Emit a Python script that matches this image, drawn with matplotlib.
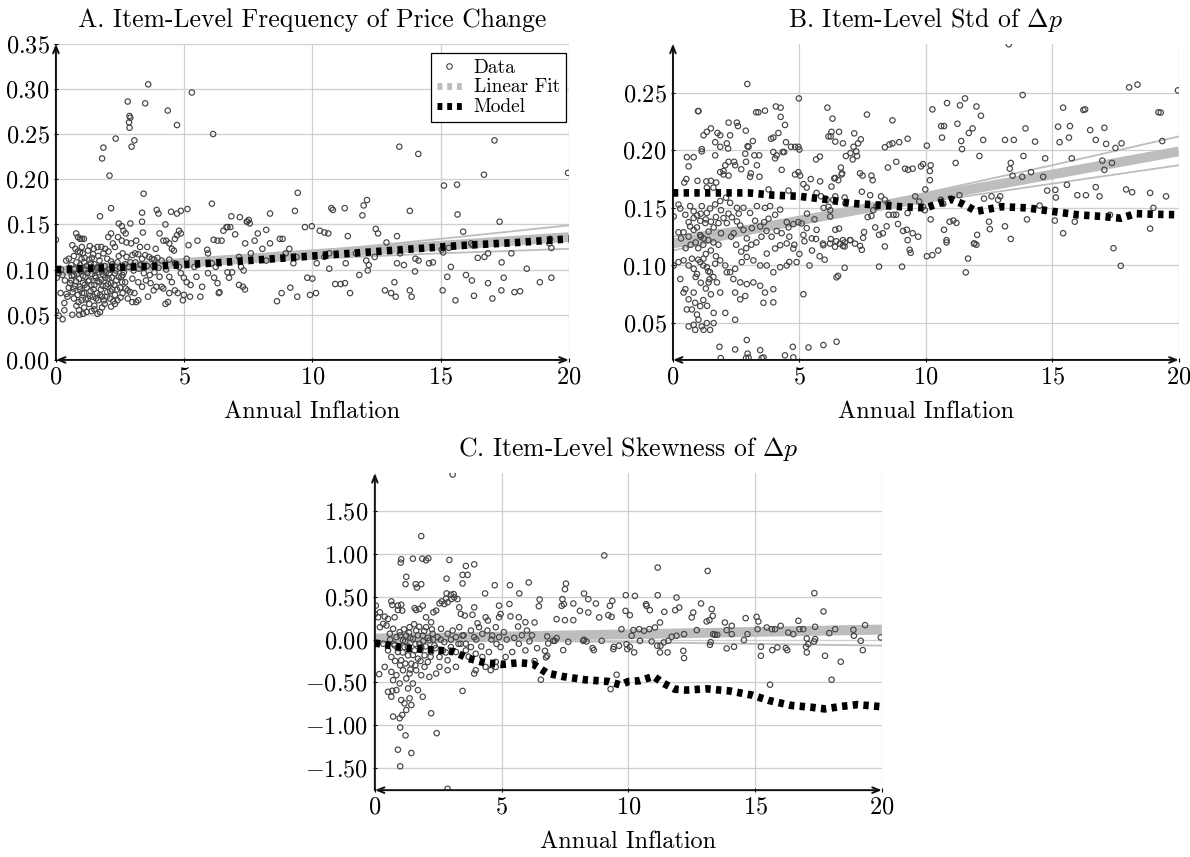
import matplotlib
matplotlib.use("Agg")
import matplotlib.pyplot as plt
from matplotlib.lines import Line2D
from matplotlib.ticker import FuncFormatter

plt.rcParams["font.family"] = "cmr10"
plt.rcParams["mathtext.fontset"] = "cm"
plt.rcParams["axes.formatter.use_mathtext"] = True

# --- data (x = annual inflation) ---
freq_pts = [
    (3.6, 0.305), (5.3, 0.296), (2.8, 0.286), (3.48, 0.284), (4.36, 0.276), (2.87, 0.270), (2.9, 0.268),
    (2.85, 0.263), (2.87, 0.257), (4.72, 0.260), (3.06, 0.243), (2.95, 0.236), (2.33, 0.245), (1.85, 0.235),
    (1.8, 0.223), (2.09, 0.204), (6.13, 0.250), (13.39, 0.236), (14.13, 0.228), (17.1, 0.243), (16.69, 0.205),
    (15.13, 0.193), (15.64, 0.194), (19.97, 0.207), (3.42, 0.184), (9.43, 0.185), (1.72, 0.159), (2.15, 0.168),
    (6.08, 0.173), (5.13, 0.167), (6.84, 0.159), (9.32, 0.165), (10.74, 0.168), (10.8, 0.166), (11.26, 0.168),
    (12.13, 0.177), (12.0, 0.171), (11.95, 0.160), (13.8, 0.165), (15.66, 0.161), (17.3, 0.153), (15.88, 0.142),
    (8.35, 0.162), (7.44, 0.153), (3.36, 0.163), (3.36, 0.153), (3.93, 0.166), (4.49, 0.164), (4.72, 0.162),
    (4.87, 0.165), (4.0, 0.162), (6.69, 0.147), (6.8, 0.147), (7.52, 0.155), (8.2, 0.144), (8.73, 0.134),
    (8.84, 0.134), (9.71, 0.147), (9.98, 0.148), (10.29, 0.143), (10.47, 0.141), (10.62, 0.140), (11.38, 0.137),
    (12.47, 0.145), (12.56, 0.140), (13.3, 0.137), (16.19, 0.129), (17.76, 0.118), (19.27, 0.134), (19.24, 0.129),
    (19.32, 0.124), (8.62, 0.065), (8.8, 0.074), (9.14, 0.080), (9.41, 0.070), (9.91, 0.072), (10.14, 0.074),
    (9.8, 0.091), (10.0, 0.090), (10.89, 0.084), (11.1, 0.084), (11.27, 0.085), (11.47, 0.074), (11.83, 0.094),
    (12.16, 0.099), (12.83, 0.077), (13.07, 0.074), (13.25, 0.070), (13.2, 0.086), (13.8, 0.077), (13.87, 0.070),
    (14.0, 0.098), (14.02, 0.112), (14.14, 0.110), (14.55, 0.107), (14.7, 0.108), (15.08, 0.077), (15.26, 0.092),
    (15.58, 0.066), (15.4, 0.103), (15.99, 0.094), (16.22, 0.088), (16.3, 0.071), (16.45, 0.113), (16.71, 0.114),
    (16.85, 0.085), (17.02, 0.068), (17.37, 0.077), (17.46, 0.091), (17.38, 0.108), (17.88, 0.075), (18.1, 0.076),
    (18.36, 0.101), (18.87, 0.086), (19.32, 0.091), (15.32, 0.124), (16.85, 0.118), (15.04, 0.122), (15.1, 0.119),
    (16.25, 0.127), (12.89, 0.130), (12.43, 0.114), (13.42, 0.118), (13.57, 0.105), (13.3, 0.107), (11.3, 0.107),
    (11.7, 0.118), (12.1, 0.110), (12.2, 0.105), (10.47, 0.114), (10.66, 0.118), (10.17, 0.107), (10.66, 0.101),
    (9.26, 0.107), (9.38, 0.114), (8.35, 0.129), (8.96, 0.118), (9.1, 0.123), (8.2, 0.110), (7.6, 0.118),
    (7.14, 0.114), (6.08, 0.107), (6.23, 0.103), (5.93, 0.118), (5.9, 0.122), (6.15, 0.133), (6.3, 0.132),
    (6.46, 0.132), (6.53, 0.143), (6.65, 0.147), (6.99, 0.139), (7.38, 0.129), (7.17, 0.158), (7.46, 0.153),
    (7.56, 0.151), (7.75, 0.132), (7.87, 0.140), (8.05, 0.123), (7.22, 0.103), (7.32, 0.099), (6.69, 0.097),
    (6.87, 0.097), (7.14, 0.083), (7.29, 0.081), (7.37, 0.078), (6.75, 0.091), (6.38, 0.075), (6.35, 0.074),
    (6.17, 0.091), (6.3, 0.085), (5.93, 0.096), (5.7, 0.081), (5.63, 0.070), (5.23, 0.070), (4.95, 0.066),
    (4.99, 0.072), (5.1, 0.086), (5.25, 0.083), (5.4, 0.103), (5.48, 0.092), (5.17, 0.127), (5.52, 0.132),
    (5.1, 0.112), (4.8, 0.143), (4.87, 0.140), (4.64, 0.134), (4.72, 0.138), (4.52, 0.123), (4.6, 0.121),
    (4.42, 0.129), (4.27, 0.150), (4.19, 0.132), (4.3, 0.132), (4.04, 0.140), (3.89, 0.123), (4.42, 0.111),
    (4.64, 0.107), (4.8, 0.103), (4.87, 0.096), (4.99, 0.091), (4.42, 0.092), (4.52, 0.086), (4.64, 0.077),
    (4.75, 0.074), (4.27, 0.062), (4.37, 0.064), (4.42, 0.074), (4.12, 0.081), (4.19, 0.079), (3.81, 0.077),
    (3.92, 0.081), (3.59, 0.070), (3.21, 0.066), (3.13, 0.064), (2.98, 0.064), (3.06, 0.074), (2.9, 0.075),
    (2.8, 0.077), (2.3, 0.062), (2.15, 0.059), (1.72, 0.053), (1.62, 0.051), (1.39, 0.054), (1.06, 0.051),
    (0.91, 0.050), (0.64, 0.050), (0.33, 0.055), (0.11, 0.049), (0.26, 0.045), (0.0, 0.054), (0.33, 0.063),
    (0.18, 0.074), (0.41, 0.073), (0.03, 0.091), (0.0, 0.133),
    (2.75, 0.114), (2.98, 0.116), (3.09, 0.118), (3.21, 0.117), (3.36, 0.112), (3.48, 0.116), (3.63, 0.114),
    (3.74, 0.112), (3.84, 0.111), (3.96, 0.113), (4.12, 0.110), (2.83, 0.103), (3.03, 0.099), (3.24, 0.101),
    (3.43, 0.096), (3.66, 0.094), (3.84, 0.097), (4.04, 0.092), (3.69, 0.085), (3.51, 0.088), (3.21, 0.086),
    (2.98, 0.090), (3.36, 0.081), (2.45, 0.151), (2.57, 0.148), (2.63, 0.143), (2.72, 0.140), (2.9, 0.151),
    (2.57, 0.132), (2.75, 0.130), (2.93, 0.129), (2.3, 0.125), (2.42, 0.136), (3.13, 0.132), (3.39, 0.141),
    (3.56, 0.125), (3.28, 0.125), (2.15, 0.140), (2.04, 0.136), (2.22, 0.129), (1.92, 0.123), (1.77, 0.125),
    (1.62, 0.125), (1.47, 0.123), (1.32, 0.126), (0.79, 0.140), (0.86, 0.136), (0.94, 0.134), (1.01, 0.134),
    (1.09, 0.134), (0.64, 0.127), (0.76, 0.123), (0.94, 0.119), (1.01, 0.125), (1.12, 0.113),
    (0.4, 0.110), (0.5, 0.112), (0.6, 0.105), (0.55, 0.098), (0.7, 0.094), (0.8, 0.108), (0.9, 0.102),
    (1.0, 0.112), (1.1, 0.108), (1.2, 0.104), (1.3, 0.111), (1.4, 0.113), (1.5, 0.106), (1.6, 0.102),
    (1.7, 0.110), (1.8, 0.098), (1.9, 0.104), (2.0, 0.112), (2.1, 0.100), (2.2, 0.106), (2.3, 0.096),
    (2.4, 0.108), (2.5, 0.102), (2.6, 0.094), (2.7, 0.106),
    (0.6, 0.088), (0.65, 0.075), (0.7, 0.068), (0.75, 0.082), (0.8, 0.060), (0.85, 0.072), (0.9, 0.090),
    (0.95, 0.078), (1.0, 0.066), (1.05, 0.085), (1.1, 0.058), (1.1, 0.074), (1.15, 0.092), (1.2, 0.080),
    (1.25, 0.068), (1.3, 0.062), (1.3, 0.088), (1.35, 0.076), (1.4, 0.095), (1.45, 0.070), (1.5, 0.083),
    (1.5, 0.060), (1.55, 0.091), (1.6, 0.074), (1.65, 0.066), (1.7, 0.086), (1.75, 0.078), (1.8, 0.070),
    (1.85, 0.094), (1.9, 0.062), (1.95, 0.082), (2.0, 0.075), (2.05, 0.090), (2.1, 0.068), (2.15, 0.085),
    (2.2, 0.078), (2.3, 0.072), (2.35, 0.088), (2.4, 0.066), (2.5, 0.080), (2.55, 0.092), (2.6, 0.074),
    (2.7, 0.086), (2.8, 0.068), (0.5, 0.080), (0.45, 0.070), (0.35, 0.088), (0.25, 0.094), (0.2, 0.100),
    (0.1, 0.096), (0.9, 0.055), (1.2, 0.053), (1.5, 0.056), (1.8, 0.058),
    (0.55, 0.085), (0.62, 0.093), (0.68, 0.079), (0.72, 0.101), (0.78, 0.087), (0.83, 0.095), (0.88, 0.064),
    (0.92, 0.081), (0.97, 0.098), (1.02, 0.074), (1.06, 0.093), (1.12, 0.083), (1.16, 0.067), (1.22, 0.096),
    (1.26, 0.087), (1.33, 0.071), (1.38, 0.083), (1.42, 0.102), (1.47, 0.078), (1.52, 0.093), (1.57, 0.068),
    (1.62, 0.087), (1.66, 0.097), (1.72, 0.072), (1.77, 0.089), (1.82, 0.082), (1.87, 0.066), (1.92, 0.091),
    (1.98, 0.070), (2.03, 0.084), (2.08, 0.096), (2.12, 0.076), (2.18, 0.091), (2.24, 0.065), (2.28, 0.083),
    (2.33, 0.099), (2.38, 0.078), (2.45, 0.092), (2.52, 0.069), (2.58, 0.086), (2.65, 0.097), (2.72, 0.079),
    (0.95, 0.105), (1.15, 0.100), (1.35, 0.107), (1.55, 0.099), (1.75, 0.104), (1.95, 0.097), (2.15, 0.109),
    (2.45, 0.115), (1.05, 0.118), (1.25, 0.121), (1.45, 0.117), (1.65, 0.115), (1.85, 0.118), (2.05, 0.120),
    (2.6, 0.118), (2.9, 0.108), (3.1, 0.108), (3.3, 0.105), (3.55, 0.104), (3.8, 0.104), (4.0, 0.102),
    (4.3, 0.100), (0.7, 0.115), (0.85, 0.120),
]

std_pts = [
    (13.28, 0.292), (2.94, 0.2575), (4.98, 0.245), (19.97, 0.252), (18.04, 0.2546), (18.37, 0.257), (13.83, 0.248),
    (1.01, 0.234), (6.11, 0.237), (7.67, 0.231), (6.31, 0.2275), (8.68, 0.226), (10.26, 0.2355), (10.84, 0.241),
    (11.35, 0.239), (11.55, 0.245), (12.0, 0.238), (12.18, 0.230), (15.43, 0.237), (16.23, 0.235), (16.3, 0.2355),
    (19.2, 0.233), (19.29, 0.2327), (19.35, 0.208), (10.61, 0.221), (10.72, 0.221), (10.64, 0.211), (11.25, 0.223),
    (11.85, 0.219), (11.7, 0.215), (12.27, 0.209), (12.12, 0.195), (15.23, 0.2205), (15.7, 0.221), (15.66, 0.211),
    (15.29, 0.207), (13.94, 0.219), (14.32, 0.2075), (13.13, 0.209), (13.48, 0.209), (13.32, 0.184), (13.36, 0.189),
    (13.86, 0.195), (14.72, 0.193), (14.16, 0.181), (14.64, 0.177), (13.81, 0.177), (13.43, 0.178), (15.77, 0.193),
    (16.5, 0.2175), (17.06, 0.2195), (16.72, 0.209), (17.13, 0.2055), (16.98, 0.191), (17.06, 0.183), (17.36, 0.189),
    (17.74, 0.206), (17.5, 0.202), (16.33, 0.161), (15.99, 0.161), (15.58, 0.170), (15.12, 0.1656), (15.14, 0.159),
    (16.72, 0.168), (16.87, 0.160), (17.92, 0.166), (18.16, 0.1636), (18.87, 0.163), (17.42, 0.115), (17.71, 0.0997),
    (18.87, 0.132), (15.43, 0.128), (15.89, 0.138), (15.1, 0.139), (17.28, 0.144), (13.36, 0.123), (13.13, 0.134),
    (12.53, 0.1315), (12.94, 0.160), (12.6, 0.160), (12.86, 0.157), (12.3, 0.158), (12.03, 0.1266), (11.92, 0.119),
    (11.9, 0.119), (12.0, 0.118), (11.67, 0.106), (11.58, 0.094), (11.33, 0.161), (11.18, 0.189), (11.43, 0.201),
    (11.4, 0.208), (10.19, 0.187), (10.16, 0.182), (10.16, 0.174), (10.04, 0.204), (9.98, 0.166), (9.89, 0.188),
    (9.81, 0.186), (10.19, 0.140), (10.04, 0.108), (10.26, 0.109), (10.49, 0.113), (10.72, 0.131), (10.82, 0.122),
    (10.82, 0.120), (10.94, 0.138), (11.09, 0.139), (11.21, 0.137), (10.6, 0.157), (10.69, 0.1535), (9.58, 0.160),
    (9.74, 0.1555), (9.89, 0.151), (9.96, 0.148), (9.28, 0.1455), (9.7, 0.125), (9.48, 0.128), (9.25, 0.131),
    (9.28, 0.122), (9.36, 0.1136), (9.4, 0.111), (9.06, 0.099), (8.15, 0.099), (8.38, 0.1165), (8.15, 0.1266),
    (8.3, 0.128), (8.45, 0.134), (8.53, 0.144), (8.72, 0.144), (8.83, 0.144), (8.23, 0.160), (8.38, 0.157),
    (8.5, 0.154), (8.05, 0.151), (7.85, 0.143), (7.92, 0.148), (8.38, 0.2026), (8.56, 0.205), (8.68, 0.206),
    (8.95, 0.207), (9.28, 0.210), (8.83, 0.190), (9.18, 0.184), (9.48, 0.184), (7.85, 0.178), (7.9, 0.174),
    (7.4, 0.180), (7.5, 0.178), (7.47, 0.164), (7.14, 0.203), (7.25, 0.199), (7.28, 0.195), (7.11, 0.192),
    (7.02, 0.1975), (7.17, 0.2147), (7.43, 0.2095), (7.32, 0.206), (6.84, 0.195), (6.42, 0.2075), (6.72, 0.206),
    (6.15, 0.212), (6.24, 0.212), (6.27, 0.216), (6.57, 0.216), (6.64, 0.185), (6.69, 0.180), (6.42, 0.176),
    (6.27, 0.1685), (6.42, 0.160), (6.79, 0.159), (6.82, 0.154), (5.81, 0.1945), (5.66, 0.192), (5.86, 0.160),
    (5.96, 0.150), (6.22, 0.148), (6.15, 0.151), (6.22, 0.1425), (6.42, 0.131), (6.57, 0.132), (6.24, 0.123),
    (6.46, 0.121), (6.72, 0.122), (6.72, 0.117), (6.79, 0.1165), (7.02, 0.122), (7.47, 0.1136), (7.4, 0.117),
    (7.52, 0.124), (7.56, 0.129), (6.53, 0.091), (6.79, 0.098), (5.93, 0.119), (5.66, 0.123),
    (0.99, 0.234), (1.21, 0.213), (1.34, 0.216), (1.5, 0.219), (0.82, 0.194), (1.14, 0.201), (1.14, 0.199),
    (0.55, 0.194), (0.62, 0.186), (1.67, 0.207), (1.76, 0.215), (1.87, 0.213), (1.87, 0.203), (2.13, 0.206),
    (2.2, 0.224), (2.26, 0.213), (2.53, 0.224), (2.57, 0.221), (2.88, 0.217), (2.95, 0.2035), (3.16, 0.208),
    (2.18, 0.2015), (1.67, 0.1956), (1.87, 0.181), (2.0, 0.182), (2.07, 0.187), (3.29, 0.233), (3.38, 0.233),
    (3.64, 0.2344), (4.07, 0.238), (4.26, 0.237), (4.26, 0.229), (4.43, 0.222), (4.17, 0.215), (3.97, 0.211),
    (3.88, 0.210), (4.47, 0.207), (4.67, 0.203), (4.83, 0.203), (4.96, 0.203), (5.0, 0.2006), (3.97, 0.1985),
    (4.1, 0.1956), (4.34, 0.1985), (4.4, 0.1985), (4.3, 0.183), (4.04, 0.193), (2.86, 0.197), (2.99, 0.203),
    (3.22, 0.1956), (3.41, 0.1956), (3.32, 0.187), (3.08, 0.180), (2.7, 0.1835), (2.89, 0.190),
    (0.45, 0.172), (0.53, 0.175), (0.97, 0.1735), (1.32, 0.173), (1.5, 0.1735), (1.34, 0.1676), (1.6, 0.1676),
    (1.71, 0.172), (2.0, 0.179), (2.2, 0.178), (2.2, 0.190), (2.42, 0.190), (2.46, 0.187), (3.05, 0.177),
    (3.42, 0.177), (3.78, 0.166), (4.57, 0.165), (4.83, 0.179), (4.96, 0.181), (5.03, 0.178), (5.16, 0.1706),
    (5.29, 0.1676), (5.45, 0.175), (5.68, 0.163), (5.82, 0.173), (6.08, 0.157), (6.34, 0.157), (6.38, 0.1756),
    (6.54, 0.174), (6.67, 0.179),
    (0.03, 0.1426), (0.22, 0.1529), (0.29, 0.1494), (0.49, 0.144), (0.68, 0.1515), (0.82, 0.147), (0.95, 0.1435),
    (1.14, 0.1515), (1.08, 0.1388), (0.82, 0.1412), (0.62, 0.1376), (0.68, 0.1338), (0.42, 0.1288), (0.22, 0.1288),
    (0.32, 0.1235), (0.62, 0.125), (0.82, 0.1309), (0.95, 0.133), (1.08, 0.1265), (1.21, 0.1235), (1.41, 0.1294),
    (1.61, 0.133), (1.8, 0.1368), (2.0, 0.1412), (2.13, 0.1368), (2.33, 0.1418), (2.53, 0.1382), (2.66, 0.1347),
    (2.79, 0.1309), (2.92, 0.1235), (3.12, 0.1324), (3.25, 0.1388), (3.45, 0.1338), (3.61, 0.1376), (3.78, 0.1406),
    (3.64, 0.15), (3.32, 0.1515), (3.05, 0.1456), (2.79, 0.15), (2.53, 0.15), (2.26, 0.1544), (2.1, 0.1588),
    (1.87, 0.1559), (1.67, 0.153), (1.47, 0.1494), (1.34, 0.1456), (1.28, 0.1368),
    (3.84, 0.1515), (4.04, 0.144), (4.24, 0.1485), (4.5, 0.1376), (4.57, 0.133), (4.76, 0.1359), (4.96, 0.1376),
    (5.09, 0.1365), (5.29, 0.1324), (5.16, 0.1265), (5.49, 0.1235), (5.68, 0.1309), (5.95, 0.1176), (6.21, 0.119),
    (6.41, 0.1162), (6.6, 0.119), (6.8, 0.12), (7.0, 0.122), (7.2, 0.119),
    (0.03, 0.1), (0.22, 0.1029), (0.42, 0.1044), (0.62, 0.1), (0.75, 0.1059), (0.82, 0.0971), (0.95, 0.0926),
    (1.08, 0.1029), (1.21, 0.1059), (1.34, 0.0985), (1.47, 0.0941), (1.67, 0.1015), (1.87, 0.1044), (2.07, 0.1),
    (2.26, 0.0941), (2.46, 0.0971), (2.72, 0.1029), (2.92, 0.1074), (3.18, 0.1044), (3.45, 0.1), (3.71, 0.1103),
    (4.04, 0.1147), (4.24, 0.1176), (4.5, 0.1191), (4.76, 0.1147), (4.89, 0.1029), (4.5, 0.1), (4.24, 0.0985),
    (3.97, 0.0941), (3.71, 0.1),
    (0.29, 0.0882), (0.49, 0.0794), (0.42, 0.0765), (0.62, 0.0706), (0.82, 0.0765), (0.75, 0.0618), (0.88, 0.0676),
    (1.08, 0.0647), (0.95, 0.0574), (1.01, 0.0529), (1.14, 0.0471), (1.34, 0.05), (1.47, 0.0441), (1.21, 0.0441),
    (0.82, 0.0485), (0.88, 0.0441), (1.61, 0.05), (1.61, 0.0588), (1.87, 0.0765), (1.74, 0.0853), (1.41, 0.0853),
    (2.13, 0.0941), (2.39, 0.0882), (2.66, 0.0853), (2.46, 0.0765), (2.92, 0.0838), (3.18, 0.0853), (3.45, 0.0824),
    (3.64, 0.0765), (3.97, 0.0794), (3.58, 0.0676), (2.66, 0.0706), (2.86, 0.0735), (2.46, 0.0529), (2.07, 0.0588),
    (0.55, 0.0618), (0.62, 0.0471), (6.47, 0.0897), (5.16, 0.075), (3.97, 0.068),
    (1.84, 0.0294), (1.89, 0.0196), (2.46, 0.0271), (2.92, 0.0353), (2.95, 0.0235), (2.99, 0.0201), (2.89, 0.0196),
    (3.45, 0.0265), (3.51, 0.0196), (3.58, 0.0202), (4.43, 0.022), (4.74, 0.0294), (4.76, 0.0202), (5.36, 0.0288),
    (5.95, 0.0309), (6.47, 0.0338),
    (5.3, 0.145), (5.6, 0.140), (5.2, 0.121), (5.5, 0.113), (5.8, 0.108), (6.0, 0.105), (5.4, 0.100),
    (4.6, 0.103), (7.7, 0.142), (8.0, 0.133), (8.9, 0.136), (9.1, 0.130), (7.8, 0.161), (8.5, 0.185),
    (9.3, 0.183), (12.5, 0.138), (14.0, 0.140), (14.5, 0.152), (19.0, 0.150), (19.5, 0.160), (14.8, 0.165),
    (0.9, 0.120), (1.0, 0.115), (1.1, 0.125), (1.2, 0.118), (1.3, 0.110), (1.4, 0.122), (1.5, 0.113),
    (1.6, 0.120), (1.7, 0.108), (1.0, 0.105), (1.2, 0.100), (1.4, 0.095), (1.6, 0.090), (1.1, 0.085),
    (1.3, 0.080), (1.5, 0.075), (1.2, 0.070), (1.35, 0.065), (1.45, 0.088), (0.9, 0.090), (1.8, 0.118),
    (1.9, 0.128), (2.3, 0.125), (2.5, 0.118), (2.7, 0.112), (2.9, 0.115), (3.1, 0.118), (3.3, 0.120),
    (3.5, 0.125), (3.7, 0.130), (3.9, 0.125), (4.1, 0.130), (4.3, 0.128), (4.6, 0.125), (4.8, 0.118),
    (5.0, 0.110), (1.1, 0.145), (1.3, 0.140), (1.5, 0.138), (1.7, 0.142), (1.9, 0.148), (2.2, 0.145),
    (2.4, 0.128), (2.6, 0.145), (0.5, 0.115), (0.7, 0.118),
]

skew_pts = [
    (3.07, 1.93), (1.83, 1.21), (1.04, 0.939), (1.02, 0.90), (1.5, 0.946), (1.87, 0.946), (2.02, 0.927),
    (2.11, 0.95), (2.94, 0.931), (1.24, 0.734), (1.21, 0.648), (1.61, 0.648), (1.83, 0.648), (1.66, 0.609),
    (2.83, 0.713), (3.59, 0.861), (3.92, 0.88), (3.46, 0.757), (3.66, 0.757), (3.46, 0.656), (4.73, 0.636),
    (5.33, 0.636), (5.7, 0.54), (6.07, 0.668), (4.35, 0.54), (2.83, 0.54), (3.0, 0.525),
    (0.04, 0.397), (0.0, 0.300), (0.2, 0.319), (0.13, 0.261), (0.65, 0.447), (0.69, 0.405), (0.91, 0.397),
    (1.04, 0.408), (0.91, 0.346), (1.08, 0.339), (0.78, 0.261), (0.52, 0.242), (0.39, 0.269), (0.33, 0.184),
    (1.57, 0.368), (1.63, 0.346), (1.76, 0.358), (1.89, 0.397), (2.02, 0.261), (2.22, 0.203), (2.31, 0.319),
    (2.42, 0.339), (2.55, 0.424), (2.64, 0.447), (2.74, 0.416), (2.81, 0.48), (2.87, 0.436), (3.03, 0.474),
    (3.11, 0.532), (3.13, 0.494), (3.26, 0.474), (3.33, 0.377), (3.39, 0.3), (3.55, 0.281), (3.85, 0.29),
    (4.05, 0.191), (3.92, 0.377), (4.37, 0.261), (4.46, 0.223), (4.9, 0.261), (4.9, 0.397), (4.96, 0.3),
    (5.31, 0.416), (5.35, 0.272), (5.65, 0.153), (5.68, 0.261), (5.94, 0.203), (6.0, 0.106),
    (0.2, 0.145), (0.46, 0.165), (0.59, 0.068), (0.72, 0.126), (0.85, 0.029), (0.98, 0.087), (1.11, -0.010),
    (1.24, 0.048), (1.37, 0.145), (1.5, 0.010), (1.63, 0.106), (1.76, -0.048), (1.89, 0.048), (2.02, 0.145),
    (2.15, -0.010), (2.28, 0.068), (2.48, 0.029), (2.61, 0.126), (2.74, -0.029), (2.87, 0.068), (3.07, 0.106),
    (3.2, 0.029), (3.33, 0.145), (3.46, 0.048), (3.59, -0.048), (3.79, 0.106), (3.92, 0.029), (4.11, 0.145),
    (4.24, 0.068), (4.44, 0.106), (4.63, 0.048), (4.77, 0.145), (4.9, 0.029), (5.09, 0.087),
    (0.33, -0.048), (0.52, -0.126), (0.65, -0.203), (0.78, -0.068), (0.91, -0.145), (1.04, -0.242),
    (1.17, -0.087), (1.31, -0.184), (1.44, -0.281), (1.57, -0.126), (1.7, -0.223), (1.83, -0.087),
    (1.96, -0.184), (2.09, -0.261), (2.22, -0.145), (2.35, -0.068), (2.55, -0.203), (2.68, -0.126),
    (2.87, -0.242), (3.0, -0.087), (3.2, -0.145), (3.39, -0.048), (3.59, -0.126), (3.79, -0.087),
    (3.98, -0.165), (4.24, -0.203), (4.5, -0.145), (4.77, -0.261), (4.96, -0.087), (5.16, -0.203),
    (5.42, -0.145), (5.68, -0.048), (5.94, -0.126),
    (0.39, -0.319), (0.65, -0.377), (0.72, -0.474), (0.85, -0.416), (0.98, -0.513), (1.11, -0.358),
    (1.24, -0.455), (1.31, -0.571), (1.37, -0.397), (1.5, -0.513), (1.63, -0.358), (1.7, -0.591),
    (1.83, -0.416), (1.96, -0.319), (2.15, -0.436), (2.42, -0.397), (2.55, -0.319), (2.87, -0.358),
    (3.2, -0.319), (3.98, -0.358), (3.92, -0.397), (4.37, -0.319), (4.57, -0.358), (4.77, -0.319),
    (0.52, -0.61), (0.65, -0.668), (0.85, -0.591), (1.04, -0.707), (1.17, -0.745), (1.37, -0.687),
    (1.44, -0.765), (1.24, -0.823), (0.98, -0.919), (1.08, -0.881),
    (3.46, -0.6), (1.89, -0.668), (2.22, -0.861), (2.44, -1.094), (1.0, -1.028), (1.21, -1.12), (0.91, -1.287),
    (1.44, -1.326), (1.0, -1.481), (0.72, -0.9), (0.69, -0.598), (0.17, -0.404), (2.87, -1.744),
    (0.6, 0.0), (0.75, -0.05), (0.9, -0.1), (1.0, 0.05), (1.1, -0.15), (1.2, -0.02), (1.3, -0.08),
    (1.4, 0.02), (1.5, -0.18), (1.6, -0.05), (1.7, 0.05), (1.8, -0.12), (1.9, -0.02), (2.0, -0.08),
    (2.1, 0.02), (2.2, -0.2), (2.3, 0.0), (2.4, -0.1), (0.8, -0.25), (1.0, -0.3), (1.2, -0.28),
    (1.4, -0.35), (1.6, -0.3), (1.8, -0.25), (1.15, 0.12), (1.35, 0.08), (1.55, 0.18), (1.75, 0.15),
    (1.95, 0.1), (2.25, 0.12), (2.6, 0.0), (2.8, -0.15), (3.0, 0.0), (3.3, -0.05), (3.5, 0.05),
    (3.7, -0.2), (4.0, 0.0), (4.2, -0.08), (4.6, 0.0), (4.8, -0.05), (5.2, 0.0), (5.5, 0.02),
    (5.8, 0.05), (6.1, -0.02),
    (6.5, 0.469), (6.47, 0.39), (6.3, 0.2), (6.2, 0.05), (6.4, -0.1), (6.3, -0.25), (6.55, -0.469), (9.05, 0.984),
    (11.16, 0.842), (13.13, 0.803), (17.34, 0.543),
    (7.54, 0.655), (7.5, 0.589), (7.4, 0.473), (7.37, 0.395), (7.46, 0.414), (7.83, 0.422), (7.17, 0.239),
    (7.5, 0.227), (7.83, 0.227), (8.09, 0.336), (8.42, 0.473), (8.25, 0.539), (8.72, 0.422), (8.42, 0.317),
    (8.85, 0.259), (9.27, 0.395), (9.37, 0.453), (9.21, 0.286), (9.34, 0.266), (9.73, 0.122), (9.9, 0.519),
    (10.26, 0.511), (9.89, 0.336), (10.06, 0.286), (10.72, 0.395), (10.85, 0.344), (10.7, 0.414), (11.16, 0.519),
    (11.42, 0.325), (11.9, 0.492), (12.01, 0.375), (11.85, 0.344), (12.56, 0.317), (12.5, 0.259), (12.87, 0.422),
    (13.29, 0.356), (13.33, 0.278), (13.2, 0.227), (13.09, 0.212), (11.25, 0.2), (11.05, 0.142), (10.83, 0.122),
    (10.62, 0.103), (10.43, 0.122), (10.2, 0.111), (10.13, 0.045), (10.46, -0.014), (10.92, -0.022),
    (11.14, -0.072), (11.27, -0.072), (11.4, -0.033), (11.58, -0.014), (11.71, 0.033), (11.9, 0.045),
    (12.2, 0.064), (12.7, 0.111), (13.35, 0.064), (13.81, 0.2), (14.08, 0.161), (13.88, 0.111), (14.08, 0.064),
    (14.17, -0.084), (13.88, -0.103), (14.56, -0.006), (14.7, 0.064), (14.63, 0.251), (15.06, 0.266),
    (15.13, 0.212), (15.1, 0.122), (15.46, 0.142), (15.66, 0.122), (15.79, 0.122), (16.01, 0.161),
    (16.31, 0.083), (16.51, 0.064), (16.71, 0.22), (16.75, 0.122), (16.9, 0.122), (17.04, 0.013),
    (17.1, -0.053), (17.01, -0.084), (17.04, -0.15), (17.37, 0.006), (17.37, 0.15), (17.33, -0.022),
    (17.7, 0.329), (17.76, -0.189), (17.93, 0.076), (18.16, 0.122), (18.38, -0.259), (18.88, 0.115),
    (18.9, 0.045), (19.17, -0.014), (19.25, -0.123), (19.34, 0.169), (19.96, 0.025), (15.23, -0.084),
    (15.23, -0.189), (15.68, -0.123), (15.88, -0.091), (16.21, -0.099), (16.27, -0.123), (13.22, -0.061),
    (13.25, -0.029), (13.42, 0.056), (13.51, 0.056), (12.17, -0.131), (12.2, -0.216), (11.55, -0.15),
    (11.25, -0.15), (10.23, -0.15), (10.06, -0.084), (9.96, -0.111), (9.93, -0.053), (9.63, -0.072),
    (9.43, -0.084), (9.41, -0.111), (8.95, -0.014), (8.64, -0.123), (8.59, -0.099), (8.35, -0.022),
    (8.25, -0.002), (8.22, -0.014), (7.63, -0.026), (7.43, -0.123), (7.17, 0.018), (7.04, -0.014),
    (6.8, 0.037), (6.84, -0.045), (7.1, -0.014), (6.71, -0.131), (6.8, -0.189), (6.75, -0.208),
    (9.54, -0.411), (9.3, -0.578), (15.59, -0.527), (18.02, -0.469),
]

# linear fit (thick band) and its confidence bounds, model line
fit_x = [0, 20]
freq_fit = [0.098, 0.136]
freq_ci_x = [0, 5, 10, 15, 20]
freq_ci_hi = [0.102, 0.108, 0.120, 0.134, 0.149]
freq_ci_lo = [0.094, 0.104, 0.112, 0.118, 0.123]
freq_model_x = [0, 2, 4, 6, 8, 10, 12, 14, 16, 18, 20]
freq_model = [0.100, 0.102, 0.104, 0.107, 0.111, 0.115, 0.119, 0.123, 0.127, 0.130, 0.134]

std_fit = [0.119, 0.199]
std_ci_x = [0, 5, 10, 15, 20]
std_ci_hi = [0.125, 0.141, 0.163, 0.187, 0.212]
std_ci_lo = [0.113, 0.137, 0.155, 0.171, 0.187]
std_model_x = [0, 3, 4, 5, 6, 7, 8, 9, 10, 11, 11.5, 12, 13, 14, 15, 16, 17, 17.7, 18.3, 19, 20]
std_model = [0.163, 0.163, 0.161, 0.160, 0.1575, 0.154, 0.1526, 0.151, 0.150, 0.1575, 0.153, 0.147, 0.151,
             0.150, 0.147, 0.144, 0.1425, 0.141, 0.145, 0.1445, 0.144]

skew_fit = [0.01, 0.115]
skew_ci_x = [0, 5, 10, 15, 20]
skew_ci_hi = [0.06, 0.05, 0.10, 0.135, 0.165]
skew_ci_lo = [-0.04, -0.01, -0.03, -0.05, -0.07]
skew_model_x = [0, 1.26, 2.33, 3.1, 3.7, 4.33, 5.0, 5.7, 6.24, 6.78, 7.39, 8.31, 9.23, 9.69, 10.0, 10.46, 11.0,
                11.38, 11.84, 12.3, 13.07, 13.99, 14.9, 15.52, 16.44, 17.2, 17.75, 18.43, 19.05, 20]
skew_model = [-0.04, -0.1, -0.12, -0.14, -0.22, -0.27, -0.29, -0.27, -0.285, -0.39, -0.43, -0.47, -0.49, -0.53,
              -0.49, -0.48, -0.43, -0.51, -0.58, -0.59, -0.575, -0.6, -0.65, -0.71, -0.77, -0.79, -0.81, -0.78,
              -0.76, -0.785]

x_ticks = [0, 5, 10, 15, 20]
freq_yticks = [0.0, 0.05, 0.10, 0.15, 0.20, 0.25, 0.30, 0.35]
std_yticks = [0.05, 0.10, 0.15, 0.20, 0.25]
skew_yticks = [-1.5, -1.0, -0.5, 0.0, 0.5, 1.0, 1.5]

PT_COLOR = "#444444"
FIT_COLOR = "#bdbdbd"
GRID_COLOR = "#cfcfcf"
FS = 17.5


def draw_panel(ax, pts, fit, ci_x, ci_hi, ci_lo, model_x, model, ylim, yticks, title):
    xs = [p[0] for p in pts]
    ys = [p[1] for p in pts]
    ax.scatter(xs, ys, s=15, facecolors="none", edgecolors=PT_COLOR, linewidths=0.85, zorder=3)
    ax.plot(fit_x, fit, color=FIT_COLOR, lw=7, solid_capstyle="butt", zorder=2)
    ax.plot(ci_x, ci_hi, color=FIT_COLOR, lw=1.3, zorder=2)
    ax.plot(ci_x, ci_lo, color=FIT_COLOR, lw=1.3, zorder=2)
    ax.plot(model_x, model, color="black", lw=5.5, dashes=(0.7, 0.7), dash_capstyle="butt", zorder=4)

    ax.set_xlim(0, 20)
    ax.set_ylim(*ylim)
    ax.set_xticks(x_ticks)
    ax.set_yticks(yticks)
    ax.xaxis.set_major_formatter(FuncFormatter(lambda v, p: "$%d$" % v))
    ax.yaxis.set_major_formatter(FuncFormatter(lambda v, p: "$%.2f$" % v))
    ax.tick_params(labelsize=FS, length=3, width=0.8, direction="inout", pad=3)
    ax.grid(True, color=GRID_COLOR, lw=0.9, zorder=0)
    ax.set_axisbelow(True)
    for s in ax.spines.values():
        s.set_visible(False)
    # pgfplots style axis lines with arrow heads
    ax.annotate("", xy=(0, 1), xytext=(0, 0), xycoords="axes fraction",
                arrowprops=dict(arrowstyle="->,head_length=0.5,head_width=0.2", lw=1.4, color="#111111",
                                shrinkA=0, shrinkB=0))
    ax.annotate("", xy=(1, 0), xytext=(0, 0), xycoords="axes fraction",
                arrowprops=dict(arrowstyle="<->,head_length=0.5,head_width=0.2", lw=1.4, color="#111111",
                                shrinkA=0, shrinkB=0))
    ax.set_title(title, fontsize=18.5, pad=12)
    ax.set_xlabel("Annual Inflation", fontsize=FS, labelpad=9)


fig = plt.figure(figsize=(11.9, 8.57), dpi=100)
ax1 = fig.add_axes([0.047, 0.580, 0.431, 0.369])
ax2 = fig.add_axes([0.5655, 0.580, 0.425, 0.369])
ax3 = fig.add_axes([0.315, 0.078, 0.426, 0.370])

draw_panel(ax1, freq_pts, freq_fit, freq_ci_x, freq_ci_hi, freq_ci_lo, freq_model_x, freq_model,
           (0, 0.35), freq_yticks, "A. Item-Level Frequency of Price Change")
draw_panel(ax2, std_pts, std_fit, std_ci_x, std_ci_hi, std_ci_lo, std_model_x, std_model,
           (0.018, 0.2925), std_yticks, r"B. Item-Level Std of $\Delta p$")
draw_panel(ax3, skew_pts, skew_fit, skew_ci_x, skew_ci_hi, skew_ci_lo, skew_model_x, skew_model,
           (-1.76, 1.947), skew_yticks, r"C. Item-Level Skewness of $\Delta p$")

handles = [
    Line2D([], [], marker="o", ls="none", mfc="none", mec=PT_COLOR, ms=4, mew=0.8),
    Line2D([], [], color=FIT_COLOR, lw=5, dashes=(0.7, 0.7)),
    Line2D([], [], color="black", lw=5, dashes=(0.7, 0.7)),
]
leg = ax1.legend(handles, ["Data", "Linear Fit", "Model"], loc="upper right",
                 bbox_to_anchor=(0.994, 0.971), fontsize=14, frameon=True, fancybox=False,
                 edgecolor="black", framealpha=1, handlelength=1.3, borderpad=0.3,
                 labelspacing=0.1, handletextpad=0.6, borderaxespad=0)
leg.get_frame().set_linewidth(0.9)
leg.set_zorder(10)

fig.savefig("out.png", dpi=100)
